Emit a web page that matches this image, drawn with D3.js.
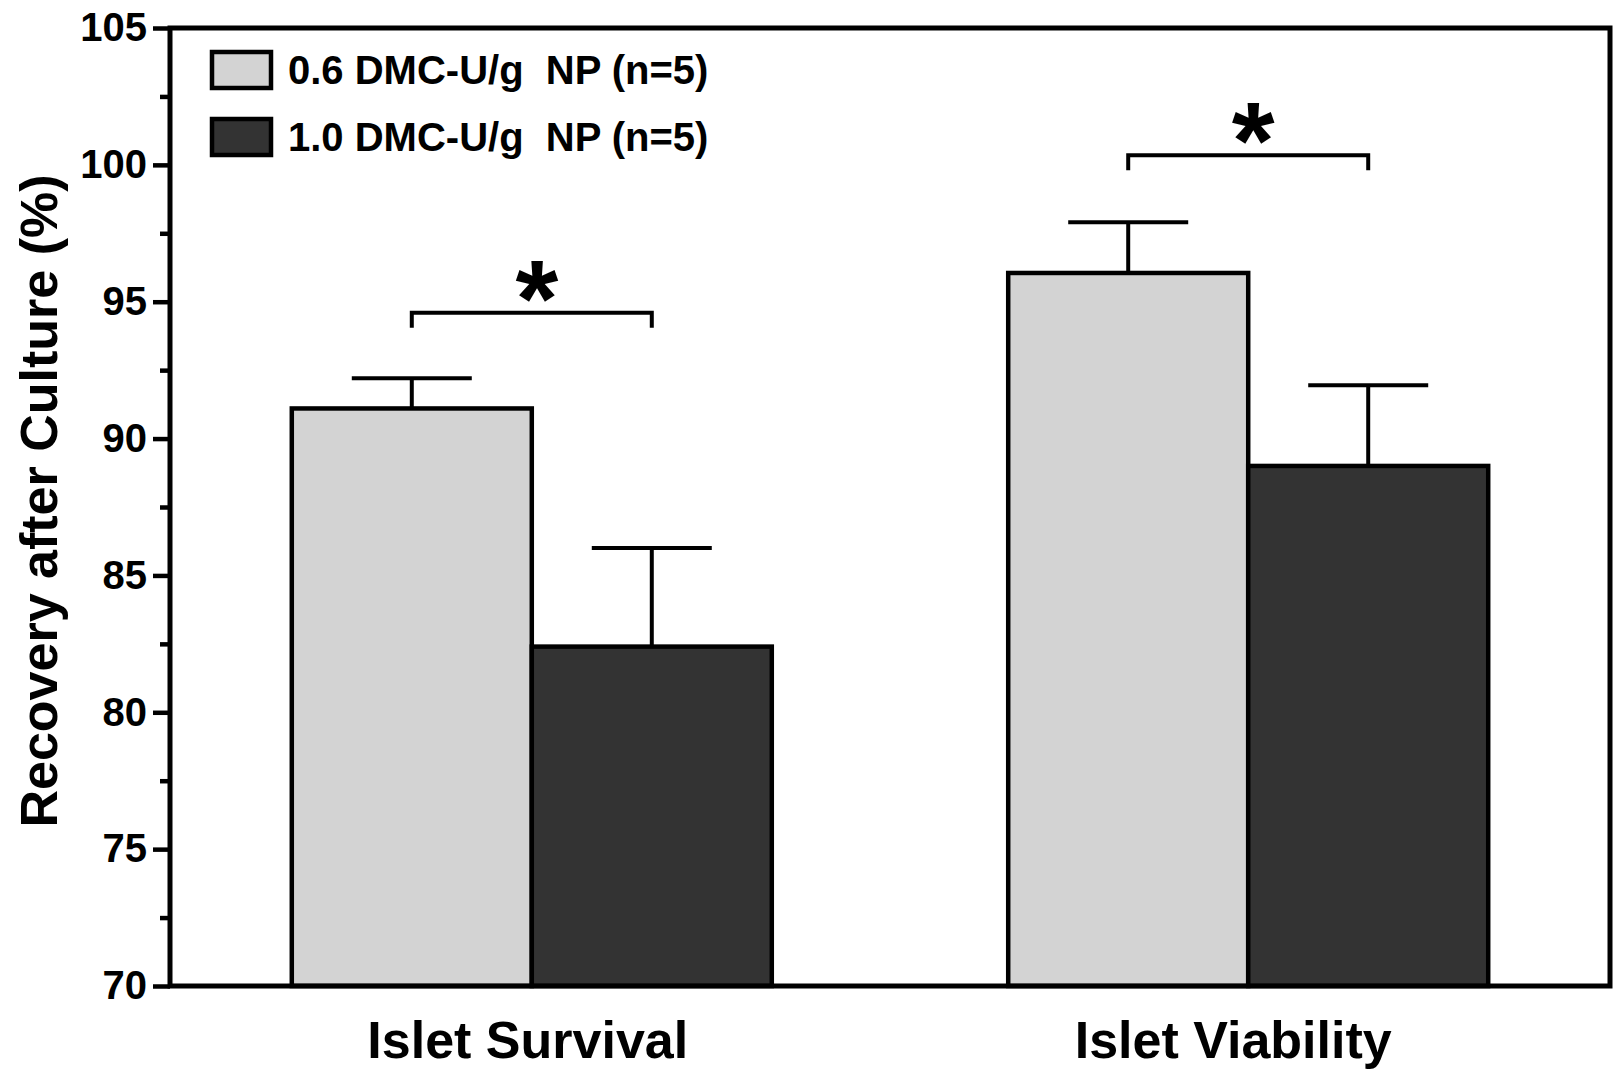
<!DOCTYPE html>
<html lang="en">
<head>
  <meta charset="UTF-8">
  <title>Recovery after Culture</title>
  <script src="https://d3js.org/d3.v7.min.js"></script>
  <style>
    body { margin: 0; background: #fff; }
    text { font-family: "Liberation Sans", Arial, sans-serif; font-weight: bold; fill: #000; }
    .legend-label { white-space: pre; }
  </style>
</head>
<body>
<svg id="chart"></svg>

<script>
  // Data
  var categories = ["Islet Survival", "Islet Viability"];
  var seriesNames = ["0.6 DMC-U/g  NP (n=5)", "1.0 DMC-U/g  NP (n=5)"];
  var seriesColors = ["#d3d3d3", "#333333"];
  var lowDose = [91.1, 96.05];     // 0.6 DMC-U/g
  var highDose = [82.4, 89.0];     // 1.0 DMC-U/g
  var lowDoseSD = [1.1, 1.85];
  var highDoseSD = [3.6, 2.95];
  var bracketLevel = [94.6, 100.35];
  var yTicks = [70, 75, 80, 85, 90, 95, 100, 105];
  var yMinorTicks = [72.5, 77.5, 82.5, 87.5, 92.5, 97.5, 102.5];

  var svgWidth = 1616, svgHeight = 1070;
  var plotLeft = 170, plotRight = 1610, plotTop = 28, plotBottom = 986;
  var labelShift = [-4, -15];   // category labels sit a bit left of the groups

  var svg = d3.select("#chart")
      .attr("width", svgWidth)
      .attr("height", svgHeight);

  // scales
  var x0 = d3.scaleBand()
      .domain(categories)
      .range([plotLeft, plotRight])
      .paddingInner(0.33)
      .paddingOuter(0.17);

  var x1 = d3.scaleBand()
      .domain(d3.range(seriesNames.length))
      .range([0, x0.bandwidth()]);

  var y = d3.scaleLinear()
      .domain([70, 105])
      .range([plotBottom, plotTop]);

  // build the bar table from the arrays
  var bars = [];
  categories.forEach(function(c, i) {
    bars.push({ cat: c, s: 0, v: lowDose[i], sd: lowDoseSD[i] });
    bars.push({ cat: c, s: 1, v: highDose[i], sd: highDoseSD[i] });
  });

  // y axis, major ticks
  var yAxis = svg.append("g")
      .attr("transform", "translate(" + plotLeft + ",0)")
      .call(d3.axisLeft(y).tickValues(yTicks).tickSize(17).tickPadding(6));
  yAxis.select(".domain").remove();
  yAxis.selectAll("line").attr("stroke", "#000").attr("stroke-width", 4.5);
  yAxis.selectAll("text").attr("font-size", "40px").attr("font-family", null);

  // y axis, minor ticks
  var yMinor = svg.append("g")
      .attr("transform", "translate(" + plotLeft + ",0)")
      .call(d3.axisLeft(y).tickValues(yMinorTicks).tickSize(10).tickFormat(""));
  yMinor.select(".domain").remove();
  yMinor.selectAll("line").attr("stroke", "#000").attr("stroke-width", 4.5);

  // x axis labels
  var xAxis = svg.append("g")
      .attr("transform", "translate(0," + plotBottom + ")")
      .call(d3.axisBottom(x0).tickSize(0).tickPadding(35));
  xAxis.select(".domain").remove();
  xAxis.selectAll("text")
      .attr("font-size", "52px")
      .attr("font-family", null)
      .attr("dx", function(d, i) { return labelShift[i]; });

  // bars
  svg.selectAll(".bar")
      .data(bars)
      .enter().append("rect")
      .attr("class", "bar")
      .attr("x", function(d) { return x0(d.cat) + x1(d.s); })
      .attr("width", x1.bandwidth())
      .attr("y", function(d) { return y(d.v); })
      .attr("height", function(d) { return y(70) - y(d.v); })
      .attr("fill", function(d) { return seriesColors[d.s]; })
      .attr("stroke", "#000")
      .attr("stroke-width", 4.5);

  // error bars (upper only)
  var capHalf = x1.bandwidth() / 4;
  var err = svg.selectAll(".err")
      .data(bars)
      .enter().append("g")
      .attr("class", "err")
      .attr("stroke", "#000")
      .attr("stroke-width", 4);
  err.append("line")
      .attr("x1", function(d) { return x0(d.cat) + x1(d.s) + x1.bandwidth() / 2; })
      .attr("x2", function(d) { return x0(d.cat) + x1(d.s) + x1.bandwidth() / 2; })
      .attr("y1", function(d) { return y(d.v); })
      .attr("y2", function(d) { return y(d.v + d.sd); });
  err.append("line")
      .attr("x1", function(d) { return x0(d.cat) + x1(d.s) + x1.bandwidth() / 2 - capHalf; })
      .attr("x2", function(d) { return x0(d.cat) + x1(d.s) + x1.bandwidth() / 2 + capHalf; })
      .attr("y1", function(d) { return y(d.v + d.sd); })
      .attr("y2", function(d) { return y(d.v + d.sd); });

  // significance brackets
  var sig = svg.selectAll(".sig")
      .data(categories)
      .enter().append("g")
      .attr("class", "sig");
  sig.append("path")
      .attr("fill", "none")
      .attr("stroke", "#000")
      .attr("stroke-width", 4)
      .attr("d", function(c, i) {
        var xa = x0(c) + x1(0) + x1.bandwidth() / 2;
        var xb = x0(c) + x1(1) + x1.bandwidth() / 2;
        var yb = y(bracketLevel[i]);
        return "M" + xa + "," + (yb + 15) + "V" + yb + "H" + xb + "V" + (yb + 15);
      });
  sig.append("text")
      .attr("x", function(c) { return x0(c) + x0.bandwidth() / 2 + 5; })
      .attr("y", function(c, i) { return y(bracketLevel[i]) + 23; })
      .attr("text-anchor", "middle")
      .attr("font-size", "110px")
      .text("*");

  // frame around the plot
  svg.append("rect")
      .attr("x", plotLeft)
      .attr("y", plotTop)
      .attr("width", plotRight - plotLeft)
      .attr("height", plotBottom - plotTop)
      .attr("fill", "none")
      .attr("stroke", "#000")
      .attr("stroke-width", 5);

  // legend
  var legend = svg.selectAll(".legend")
      .data(seriesNames)
      .enter().append("g")
      .attr("class", "legend")
      .attr("transform", function(d, i) { return "translate(212," + (52 + i * 67) + ")"; });
  legend.append("rect")
      .attr("width", 59)
      .attr("height", 36)
      .attr("fill", function(d, i) { return seriesColors[i]; })
      .attr("stroke", "#000")
      .attr("stroke-width", 4.5);
  legend.append("text")
      .attr("class", "legend-label")
      .attr("x", 76)
      .attr("y", 18)
      .attr("dy", "0.36em")
      .attr("font-size", "40px")
      .text(function(d) { return d; });

  // y axis title
  svg.append("text")
      .attr("transform", "translate(57," + ((plotTop + plotBottom) / 2 - 6) + ") rotate(-90)")
      .attr("text-anchor", "middle")
      .attr("font-size", "52px")
      .text("Recovery after Culture (%)");
</script>
</body>
</html>
